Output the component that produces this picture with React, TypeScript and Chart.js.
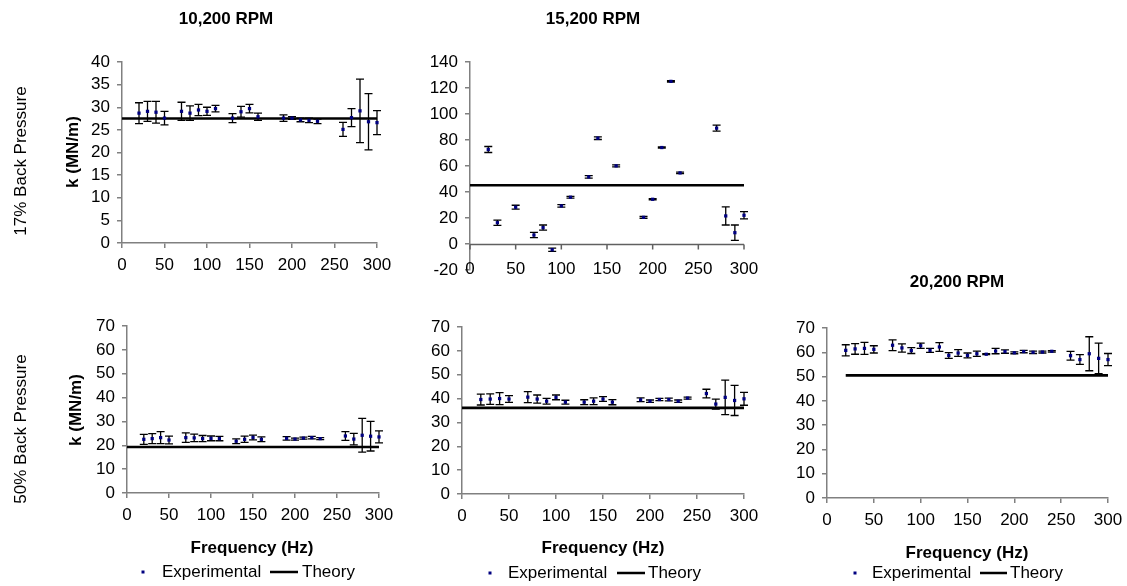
import React, { useEffect, useRef } from "react";
import { Chart, registerables } from "chart.js";
Chart.register(...registerables);

const FONT = "'Liberation Sans', Arial, sans-serif";

// ---------- DATA ----------
const xTicks = [0, 50, 100, 150, 200, 250, 300];
const yTicks40 = [0, 5, 10, 15, 20, 25, 30, 35, 40];
const yTicks140 = [-20, 0, 20, 40, 60, 80, 100, 120, 140];
const yTicks70 = [0, 10, 20, 30, 40, 50, 60, 70];

// 10,200 RPM, 17% back pressure
const freqA = [20, 30, 40, 50, 70, 80, 90, 100, 110, 130, 140, 150, 160, 190, 200, 210, 220, 230, 260, 270, 280, 290, 300];
const kA = [28.7, 29.1, 28.9, 27.6, 29.1, 28.7, 29.4, 29.1, 29.7, 27.6, 29.0, 29.7, 27.9, 27.6, 27.6, 27.2, 27.1, 26.9, 25.1, 27.7, 29.2, 26.8, 26.6];
const errA = [2.3, 2.2, 2.4, 1.5, 2.0, 1.6, 1.25, 0.9, 0.7, 1.0, 1.2, 0.95, 0.8, 0.7, 0.3, 0.4, 0.5, 0.5, 1.55, 2.0, 7.0, 6.2, 2.65];
const theoryFreqA = [0, 300];
const theoryA = [27.5, 27.5];

// 15,200 RPM, 17% back pressure
const freqB = [20, 30, 50, 70, 80, 90, 100, 110, 130, 140, 160, 190, 200, 210, 220, 230, 270, 280, 290, 300];
const kB = [72.7, 16.4, 28.3, 6.9, 12.6, -4.4, 29.3, 36.0, 51.6, 81.4, 60.1, 20.5, 34.4, 74.2, 125.1, 54.7, 89.1, 21.6, 8.7, 22.1];
const errB = [2.3, 2.0, 1.5, 2.0, 2.0, 1.2, 1.0, 0.7, 1.0, 1.0, 0.8, 0.7, 0.5, 0.5, 0.5, 0.6, 2.3, 7.0, 5.9, 2.8];
const theoryFreqB = [0, 300];
const theoryB = [45.2, 45.2];

// 10,200 RPM, 50% back pressure
const freqC = [20, 30, 40, 50, 70, 80, 90, 100, 110, 130, 140, 150, 160, 190, 200, 210, 220, 230, 260, 270, 280, 290, 300];
const kC = [22.5, 22.8, 23.2, 22.2, 23.2, 23.1, 22.8, 22.9, 22.8, 21.7, 22.5, 23.3, 22.5, 22.9, 22.6, 23.0, 23.2, 22.8, 23.9, 22.6, 24.2, 23.8, 23.5];
const errC = [2.1, 2.1, 2.5, 1.6, 2.0, 1.6, 1.3, 1.0, 0.9, 1.0, 1.3, 1.0, 1.0, 0.7, 0.4, 0.4, 0.5, 0.4, 1.8, 2.4, 7.1, 6.2, 2.5];
const theoryFreqC = [0, 300];
const theoryC = [19.3, 19.3];

// 15,200 RPM, 50% back pressure
const freqD = [20, 30, 40, 50, 70, 80, 90, 100, 110, 130, 140, 150, 160, 190, 200, 210, 220, 230, 240, 260, 270, 280, 290, 300];
const kD = [39.6, 39.8, 40.0, 39.8, 40.6, 39.8, 38.9, 40.5, 38.5, 38.5, 38.9, 39.8, 38.5, 39.5, 38.9, 39.6, 39.6, 38.9, 40.2, 42.1, 37.7, 40.5, 39.2, 39.9];
const errD = [2.3, 2.2, 2.5, 1.4, 2.3, 1.7, 1.2, 1.0, 0.8, 1.0, 1.4, 1.0, 1.1, 0.8, 0.5, 0.5, 0.6, 0.5, 0.4, 1.8, 2.1, 7.2, 6.3, 2.7];
const theoryFreqD = [0, 300];
const theoryD = [36.1, 36.1];

// 20,200 RPM, 50% back pressure
const freqE = [20, 30, 40, 50, 70, 80, 90, 100, 110, 120, 130, 140, 150, 160, 170, 180, 190, 200, 210, 220, 230, 240, 260, 270, 280, 290, 300];
const kE = [60.8, 61.4, 61.6, 61.2, 62.9, 61.8, 60.7, 62.7, 60.8, 62.2, 58.7, 59.7, 58.7, 59.4, 59.2, 60.5, 60.3, 59.8, 60.3, 60.0, 60.1, 60.4, 58.6, 57.0, 59.4, 57.5, 57.0];
const errE = [2.3, 2.2, 2.5, 1.5, 2.2, 1.7, 1.2, 1.1, 0.8, 1.8, 1.2, 1.4, 1.0, 1.1, 0.2, 1.1, 0.7, 0.4, 0.5, 0.5, 0.4, 0.3, 1.8, 2.0, 7.0, 6.3, 2.5];
const theoryFreqE = [20, 300];
const theoryE = [50.5, 50.5];

const seriesNames = ["Experimental", "Theory"];
const xTitle = "Frequency (Hz)";
const yTitle = "k (MN/m)";

// ---------- LAYOUT ----------
type TextItem = { text: string; x: number; y: number; bold?: boolean; rot?: boolean };
type LegendPos = { y: number; dotX: number; textX: number; line1: number; line2: number; theoryX: number };
type PanelCfg = {
  canvas: [number, number, number, number];
  area: [number, number, number, number];
  freq: number[]; k: number[]; err: number[];
  tFreq: number[]; tK: number[];
  yMin: number; yMax: number; yTicks: number[];
  texts: TextItem[];
  legend?: LegendPos;
  zeroAxis?: boolean;
  yW: number; xH: number;
};

const panels: PanelCfg[] = [
  {
    canvas: [0, 0, 400, 290], area: [122, 62, 377, 243],
    freq: freqA, k: kA, err: errA, tFreq: theoryFreqA, tK: theoryA,
    yMin: 0, yMax: 40, yTicks: yTicks40, yW: 50, xH: 40,
    texts: [
      { text: "10,200 RPM", x: 226, y: 19, bold: true },
      { text: "17% Back Pressure", x: 21, y: 161, rot: true },
      { text: yTitle, x: 73, y: 152, bold: true, rot: true },
    ],
  },
  {
    canvas: [400, 0, 370, 290], area: [470, 62, 744, 270],
    freq: freqB, k: kB, err: errB, tFreq: theoryFreqB, tK: theoryB,
    yMin: -20, yMax: 140, yTicks: yTicks140, yW: 50, xH: 15, zeroAxis: true,
    texts: [{ text: "15,200 RPM", x: 593, y: 19, bold: true }],
  },
  {
    canvas: [0, 290, 400, 296], area: [127, 326, 379, 493],
    freq: freqC, k: kC, err: errC, tFreq: theoryFreqC, tK: theoryC,
    yMin: 0, yMax: 70, yTicks: yTicks70, yW: 50, xH: 40,
    texts: [
      { text: "50% Back Pressure", x: 21, y: 429, rot: true },
      { text: yTitle, x: 76, y: 410, bold: true, rot: true },
      { text: xTitle, x: 252, y: 548, bold: true },
    ],
    legend: { y: 572, dotX: 143, textX: 162, line1: 270, line2: 298, theoryX: 302 },
  },
  {
    canvas: [400, 290, 370, 296], area: [462, 327, 744, 494],
    freq: freqD, k: kD, err: errD, tFreq: theoryFreqD, tK: theoryD,
    yMin: 0, yMax: 70, yTicks: yTicks70, yW: 50, xH: 40,
    texts: [{ text: xTitle, x: 603, y: 548, bold: true }],
    legend: { y: 573, dotX: 490, textX: 508, line1: 617, line2: 645, theoryX: 648 },
  },
  {
    canvas: [770, 260, 357, 326], area: [827, 328, 1108, 498],
    freq: freqE, k: kE, err: errE, tFreq: theoryFreqE, tK: theoryE,
    yMin: 0, yMax: 70, yTicks: yTicks70, yW: 50, xH: 40,
    texts: [
      { text: "20,200 RPM", x: 957, y: 282, bold: true },
      { text: xTitle, x: 967, y: 553, bold: true },
    ],
    legend: { y: 573, dotX: 855, textX: 872, line1: 980, line2: 1007, theoryX: 1010 },
  },
];

const AXIS = "#808080";
const MARK = "#000080";

function buildConfig(cfg: PanelCfg): any {
  const [cl, ct, cw, ch] = cfg.canvas;
  const [L, T, R, B] = cfg.area;
  const padding = {
    left: L - cl - cfg.yW,
    top: T - ct,
    right: cl + cw - R,
    bottom: ct + ch - B - cfg.xH,
  };

  const overlay = {
    id: "overlay",
    beforeDatasetsDraw(chart: any) {
      const ctx = chart.ctx;
      const xs = chart.scales.x;
      const ys = chart.scales.y;
      ctx.save();
      if (cfg.zeroAxis) {
        const y0 = Math.round(ys.getPixelForValue(0)) + 0.5;
        ctx.strokeStyle = "#606060";
        ctx.lineWidth = 1.5;
        ctx.beginPath();
        ctx.moveTo(chart.chartArea.left, y0);
        ctx.lineTo(chart.chartArea.right, y0);
        xTicks.forEach((v) => {
          const px = xs.getPixelForValue(v);
          ctx.moveTo(px, y0);
          ctx.lineTo(px, y0 + 5);
        });
        ctx.stroke();
      }
      // error bars
      ctx.strokeStyle = "#000";
      ctx.lineWidth = 1.3;
      cfg.freq.forEach((f, i) => {
        const px = xs.getPixelForValue(f);
        const yt = ys.getPixelForValue(cfg.k[i] + cfg.err[i]);
        const yb = ys.getPixelForValue(cfg.k[i] - cfg.err[i]);
        ctx.beginPath();
        ctx.moveTo(px, yt);
        ctx.lineTo(px, yb);
        ctx.moveTo(px - 4, yt);
        ctx.lineTo(px + 4, yt);
        ctx.moveTo(px - 4, yb);
        ctx.lineTo(px + 4, yb);
        ctx.stroke();
      });
      ctx.restore();
    },
    afterDraw(chart: any) {
      const ctx = chart.ctx;
      const xs = chart.scales.x;
      const ys = chart.scales.y;
      ctx.save();
      ctx.fillStyle = "#000";
      ctx.textBaseline = "middle";
      if (cfg.zeroAxis) {
        // category labels sit at the bottom of the plot (Excel "low" position)
        ctx.font = `17px ${FONT}`;
        ctx.textAlign = "center";
        const yl = ys.getPixelForValue(cfg.yMin) - 1;
        xTicks.forEach((v) => {
          ctx.fillText(String(v), xs.getPixelForValue(v), yl);
        });
      }
      cfg.texts.forEach((t) => {
        ctx.save();
        ctx.translate(t.x - cl, t.y - ct);
        if (t.rot) ctx.rotate(-Math.PI / 2);
        ctx.font = `${t.bold ? "bold " : ""}17px ${FONT}`;
        ctx.textAlign = "center";
        ctx.fillText(t.text, 0, 0);
        ctx.restore();
      });
      if (cfg.legend) {
        const lg = cfg.legend;
        const y = lg.y - ct;
        ctx.fillStyle = MARK;
        ctx.fillRect(lg.dotX - cl - 1.5, y - 1.5, 3, 3);
        ctx.fillStyle = "#000";
        ctx.font = `17px ${FONT}`;
        ctx.textAlign = "left";
        ctx.fillText(seriesNames[0], lg.textX - cl, y);
        ctx.fillText(seriesNames[1], lg.theoryX - cl, y);
        ctx.strokeStyle = "#000";
        ctx.lineWidth = 2.5;
        ctx.beginPath();
        ctx.moveTo(lg.line1 - cl, y);
        ctx.lineTo(lg.line2 - cl, y);
        ctx.stroke();
      }
      ctx.restore();
    },
  };

  return {
    type: "scatter",
    data: {
      datasets: [
        {
          label: seriesNames[0],
          data: cfg.freq.map((f, i) => ({ x: f, y: cfg.k[i] })),
          pointStyle: "rect",
          pointRadius: 2.3,
          backgroundColor: MARK,
          borderColor: MARK,
          borderWidth: 0,
          clip: false,
        },
        {
          label: seriesNames[1],
          data: cfg.tFreq.map((f, i) => ({ x: f, y: cfg.tK[i] })),
          showLine: true,
          borderColor: "#000",
          borderWidth: 2.6,
          pointRadius: 0,
          fill: false,
          clip: false,
        },
      ],
    },
    options: {
      responsive: false,
      animation: false,
      devicePixelRatio: 1,
      layout: { padding },
      plugins: {
        legend: { display: false },
        title: { display: false },
        tooltip: { enabled: false },
      },
      events: [],
      scales: {
        x: {
          type: "linear",
          min: 0,
          max: 300,
          afterBuildTicks: (s: any) => {
            s.ticks = xTicks.map((v) => ({ value: v }));
          },
          afterFit: (s: any) => {
            s.height = cfg.xH;
            s.paddingLeft = 0;
            s.paddingRight = 0;
          },
          ticks: {
            display: !cfg.zeroAxis,
            color: "#000",
            font: { family: FONT, size: 17 },
            padding: 7,
            maxRotation: 0,
            autoSkip: false,
          },
          grid: {
            display: !cfg.zeroAxis,
            drawOnChartArea: false,
            drawTicks: !cfg.zeroAxis,
            tickLength: 5,
            color: AXIS,
            lineWidth: 1.5,
          },
          border: { display: !cfg.zeroAxis, color: AXIS, width: 1.5 },
        },
        y: {
          type: "linear",
          min: cfg.yMin,
          max: cfg.yMax,
          afterBuildTicks: (s: any) => {
            s.ticks = cfg.yTicks.map((v) => ({ value: v }));
          },
          afterFit: (s: any) => {
            s.width = cfg.yW;
            s.paddingTop = 0;
            s.paddingBottom = 0;
          },
          ticks: {
            color: "#000",
            font: { family: FONT, size: 17 },
            padding: 7,
            autoSkip: false,
          },
          grid: {
            drawOnChartArea: false,
            drawTicks: true,
            tickLength: 5,
            color: AXIS,
            lineWidth: 1.5,
          },
          border: { color: AXIS, width: 1.5 },
        },
      },
    },
    plugins: [overlay],
  };
}

function Panel({ cfg }: { cfg: PanelCfg }) {
  const ref = useRef<HTMLCanvasElement>(null);
  useEffect(() => {
    const chart = new Chart(ref.current as HTMLCanvasElement, buildConfig(cfg));
    return () => chart.destroy();
  }, [cfg]);
  const [l, t, w, h] = cfg.canvas;
  return (
    <canvas
      ref={ref}
      width={w}
      height={h}
      style={{ position: "absolute", left: l, top: t, width: w, height: h }}
    />
  );
}

export default function App() {
  return (
    <div style={{ position: "absolute", left: 0, top: 0, width: 1127, height: 586, background: "#fff", overflow: "hidden" }}>
      {panels.map((p, i) => (
        <Panel key={i} cfg={p} />
      ))}
    </div>
  );
}
